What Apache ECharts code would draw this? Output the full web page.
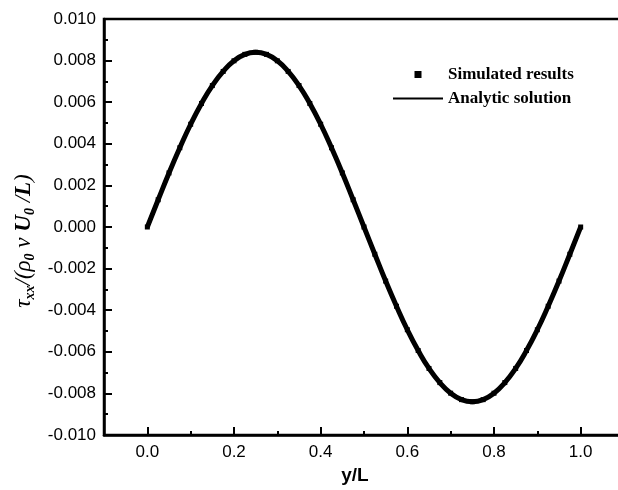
<!DOCTYPE html>
<html>
<head>
<meta charset="utf-8">
<script src="https://cdn.jsdelivr.net/npm/echarts@6/dist/echarts.min.js"></script>
<style>html,body{margin:0;padding:0;background:#fff;overflow:hidden;width:618px;height:490px;}#c{width:630px;height:490px;}</style>
</head>
<body>
<div id="c"></div>
<script>
// y/L positions
var yL = [0, 0.025, 0.05, 0.075, 0.1, 0.125, 0.15, 0.175, 0.2, 0.225, 0.25, 0.275, 0.3, 0.325, 0.35, 0.375, 0.4, 0.425, 0.45, 0.475, 0.5,
          0.525, 0.55, 0.575, 0.6, 0.625, 0.65, 0.675, 0.7, 0.725, 0.75, 0.775, 0.8, 0.825, 0.85, 0.875, 0.9, 0.925, 0.95, 0.975, 1.0];
// Simulated results
var simulated = [0, 0.00131, 0.00260, 0.00381, 0.00494, 0.00594, 0.00680, 0.00748, 0.00799, 0.00830, 0.00840, 0.00830, 0.00799, 0.00748, 0.00680, 0.00594, 0.00494, 0.00381, 0.00260, 0.00131, 0,
                 -0.00131, -0.00260, -0.00381, -0.00494, -0.00594, -0.00680, -0.00748, -0.00799, -0.00830, -0.00840, -0.00830, -0.00799, -0.00748, -0.00680, -0.00594, -0.00494, -0.00381, -0.00260, -0.00131, 0];
// Analytic solution
var analytic = [0, 0.00131, 0.00260, 0.00381, 0.00494, 0.00594, 0.00680, 0.00748, 0.00799, 0.00830, 0.00840, 0.00830, 0.00799, 0.00748, 0.00680, 0.00594, 0.00494, 0.00381, 0.00260, 0.00131, 0,
                -0.00131, -0.00260, -0.00381, -0.00494, -0.00594, -0.00680, -0.00748, -0.00799, -0.00830, -0.00840, -0.00830, -0.00799, -0.00748, -0.00680, -0.00594, -0.00494, -0.00381, -0.00260, -0.00131, 0];
var xMajorTicks = [0, 0.2, 0.4, 0.6, 0.8, 1.0];

function pairs(xs, ys) { return xs.map(function (x, i) { return [x, ys[i]]; }); }

var chart = echarts.init(document.getElementById('c'), null, { renderer: 'canvas' });
var sans = 'Liberation Sans, Arial, sans-serif';
var serif = 'Liberation Serif, Times New Roman, serif';
chart.setOption({
  animation: false,
  backgroundColor: '#fff',
  grid: { left: 104, top: 19, right: 6, bottom: 52, show: true, borderColor: '#000', borderWidth: 2.5, backgroundColor: 'transparent' },
  legend: {
    orient: 'vertical', left: 388, top: 61, itemWidth: 50, itemHeight: 7, itemGap: 7,
    symbolKeepAspect: true,
    textStyle: { fontFamily: serif, fontWeight: 'bold', fontSize: 17, color: '#000' },
    data: [
      { name: 'Simulated results', icon: 'path://M0 0H10V10H0Z', itemStyle: { color: '#000' } },
      { name: 'Analytic solution', icon: 'path://M0 0H50V2H0Z', itemStyle: { color: '#000' } }
    ]
  },
  xAxis: [{
    type: 'value', min: -0.1, max: 1.1, position: 'bottom',
    name: 'y/L', nameLocation: 'middle', nameGap: 31,
    nameTextStyle: { fontFamily: sans, fontWeight: 'bold', fontSize: 19, color: '#000', padding: [0, 18, 0, 0] },
    axisLine: { show: true, onZero: false, lineStyle: { color: '#000', width: 2.5 } },
    axisTick: { show: true, inside: true, length: 8, lineStyle: { color: '#000', width: 2 }, customValues: xMajorTicks },
    axisLabel: { show: true, margin: 9, fontFamily: sans, fontSize: 17, color: '#000', customValues: xMajorTicks,
      formatter: function (v) { return v.toFixed(1); } },
    splitLine: { show: false }
  }, {
    type: 'value', min: -0.1, max: 1.1, interval: 0.1, position: 'bottom', gridIndex: 0,
    axisLine: { show: false, onZero: false },
    axisTick: { show: true, inside: true, length: 4, lineStyle: { color: '#000', width: 2 } },
    axisLabel: { show: false },
    splitLine: { show: false }
  }],
  yAxis: {
    type: 'value', min: -0.01, max: 0.01, interval: 0.002,
    name: '{t|τ}{s|xx}{t|/(ρ}{s|0}{t| ν }{b|U}{s|0}{t| /}{b|L}{t|)}',
    nameLocation: 'middle', nameGap: 66,
    nameTextStyle: {
      padding: [0, 28, 0, 0],
      rich: {
        t: { fontFamily: serif, fontStyle: 'italic', fontSize: 23, color: '#000' },
        b: { fontFamily: serif, fontStyle: 'italic', fontWeight: 'bold', fontSize: 23, color: '#000' },
        s: { fontFamily: serif, fontStyle: 'italic', fontWeight: 'bold', fontSize: 14, color: '#000', padding: [12, 0, 0, 0] }
      }
    },
    axisLine: { show: true, onZero: false, lineStyle: { color: '#000', width: 2.5 } },
    axisTick: { show: true, inside: true, length: 8, lineStyle: { color: '#000', width: 2 } },
    minorTick: { show: true, splitNumber: 2, length: 4, lineStyle: { color: '#000', width: 2 } },
    axisLabel: { show: true, margin: 8, fontFamily: sans, fontSize: 17, color: '#000',
      formatter: function (v) { return v.toFixed(3); } },
    splitLine: { show: false }
  },
  series: [{
    name: 'Simulated results', type: 'line', xAxisIndex: 0, smooth: true,
    data: pairs(yL, simulated),
    symbol: 'rect', symbolSize: 5, showSymbol: true,
    itemStyle: { color: '#000' },
    lineStyle: { color: '#000', width: 5 }
  }, {
    name: 'Analytic solution', type: 'line', xAxisIndex: 0, smooth: true,
    data: pairs(yL, analytic),
    showSymbol: false, symbol: 'none',
    lineStyle: { color: '#000', width: 1.5 }
  }]
});
</script>
</body>
</html>
